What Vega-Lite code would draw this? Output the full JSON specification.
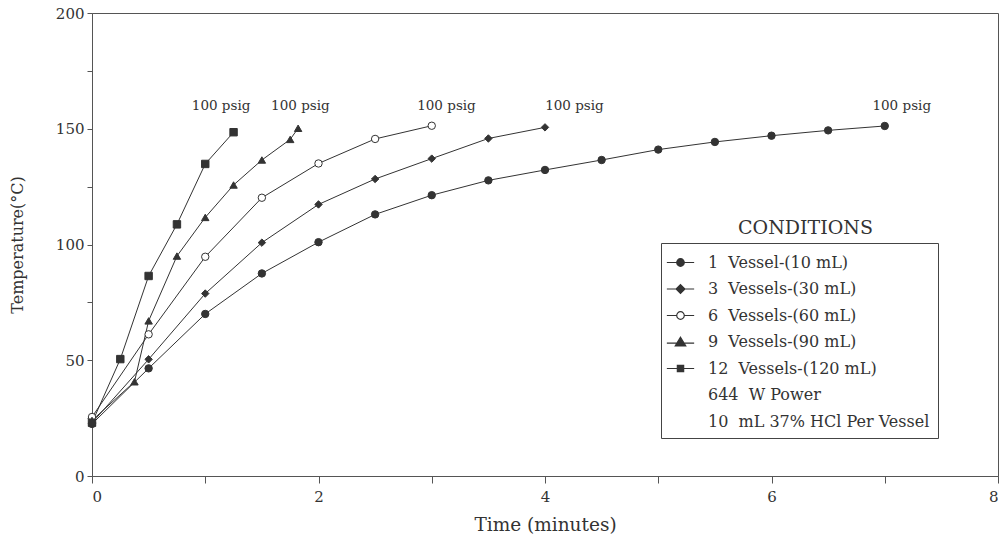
{
  "$schema": "https://vega.github.io/schema/vega-lite/v6.json",
  "autosize": {"type": "none"},
  "width": 906,
  "height": 463,
  "padding": {"left": 92, "top": 13, "right": 10, "bottom": 64},
  "background": "white",
  "config": {
    "view": {"stroke": "#555", "strokeWidth": 1},
    "axis": {"grid": false, "domainColor": "#555", "tickColor": "#555", "labelFont": "DejaVu Serif", "labelColor": "#333", "titleFont": "DejaVu Serif", "titleColor": "#333", "titleFontWeight": "normal"}
  },
  "datasets": {
    "curves": [
      {"series": "1 Vessel-(10 mL)", "time": 0, "temp": 22.5},
      {"series": "1 Vessel-(10 mL)", "time": 0.5, "temp": 46.5},
      {"series": "1 Vessel-(10 mL)", "time": 1, "temp": 70},
      {"series": "1 Vessel-(10 mL)", "time": 1.5, "temp": 87.5},
      {"series": "1 Vessel-(10 mL)", "time": 2, "temp": 101},
      {"series": "1 Vessel-(10 mL)", "time": 2.5, "temp": 113},
      {"series": "1 Vessel-(10 mL)", "time": 3, "temp": 121.3},
      {"series": "1 Vessel-(10 mL)", "time": 3.5, "temp": 127.7},
      {"series": "1 Vessel-(10 mL)", "time": 4, "temp": 132.2},
      {"series": "1 Vessel-(10 mL)", "time": 4.5, "temp": 136.5},
      {"series": "1 Vessel-(10 mL)", "time": 5, "temp": 141},
      {"series": "1 Vessel-(10 mL)", "time": 5.5, "temp": 144.3},
      {"series": "1 Vessel-(10 mL)", "time": 6, "temp": 147},
      {"series": "1 Vessel-(10 mL)", "time": 6.5, "temp": 149.3},
      {"series": "1 Vessel-(10 mL)", "time": 7, "temp": 151.2},
      {"series": "3 Vessels-(30 mL)", "time": 0, "temp": 23},
      {"series": "3 Vessels-(30 mL)", "time": 0.5, "temp": 50.4},
      {"series": "3 Vessels-(30 mL)", "time": 1, "temp": 78.8},
      {"series": "3 Vessels-(30 mL)", "time": 1.5, "temp": 100.8},
      {"series": "3 Vessels-(30 mL)", "time": 2, "temp": 117.3},
      {"series": "3 Vessels-(30 mL)", "time": 2.5, "temp": 128.3},
      {"series": "3 Vessels-(30 mL)", "time": 3, "temp": 137.1},
      {"series": "3 Vessels-(30 mL)", "time": 3.5, "temp": 145.8},
      {"series": "3 Vessels-(30 mL)", "time": 4, "temp": 150.6},
      {"series": "6 Vessels-(60 mL)", "time": 0, "temp": 25.5},
      {"series": "6 Vessels-(60 mL)", "time": 0.5, "temp": 61.2},
      {"series": "6 Vessels-(60 mL)", "time": 1, "temp": 94.7},
      {"series": "6 Vessels-(60 mL)", "time": 1.5, "temp": 120.2},
      {"series": "6 Vessels-(60 mL)", "time": 2, "temp": 135},
      {"series": "6 Vessels-(60 mL)", "time": 2.5, "temp": 145.6},
      {"series": "6 Vessels-(60 mL)", "time": 3, "temp": 151.3},
      {"series": "9 Vessels-(90 mL)", "time": 0, "temp": 24},
      {"series": "9 Vessels-(90 mL)", "time": 0.375, "temp": 40.7},
      {"series": "9 Vessels-(90 mL)", "time": 0.5, "temp": 67},
      {"series": "9 Vessels-(90 mL)", "time": 0.75, "temp": 95},
      {"series": "9 Vessels-(90 mL)", "time": 1, "temp": 111.7},
      {"series": "9 Vessels-(90 mL)", "time": 1.25, "temp": 125.7},
      {"series": "9 Vessels-(90 mL)", "time": 1.5, "temp": 136.5},
      {"series": "9 Vessels-(90 mL)", "time": 1.75, "temp": 145.4},
      {"series": "9 Vessels-(90 mL)", "time": 1.82, "temp": 150.2},
      {"series": "12 Vessels-(120 mL)", "time": 0, "temp": 23},
      {"series": "12 Vessels-(120 mL)", "time": 0.25, "temp": 50.5},
      {"series": "12 Vessels-(120 mL)", "time": 0.5, "temp": 86.4},
      {"series": "12 Vessels-(120 mL)", "time": 0.75, "temp": 108.7},
      {"series": "12 Vessels-(120 mL)", "time": 1, "temp": 134.8},
      {"series": "12 Vessels-(120 mL)", "time": 1.25, "temp": 148.5}
    ],
    "notes": [
      {"time": 1.14, "temp": 160, "label": "100 psig"},
      {"time": 1.84, "temp": 160, "label": "100 psig"},
      {"time": 3.13, "temp": 160, "label": "100 psig"},
      {"time": 4.26, "temp": 160, "label": "100 psig"},
      {"time": 7.15, "temp": 160, "label": "100 psig"}
    ]
  },
  "resolve": {"scale": {"shape": "independent", "fill": "independent", "stroke": "independent"}},
  "layer": [
    {
      "data": {"name": "curves"},
      "mark": {"type": "line", "color": "#333", "strokeWidth": 1},
      "encoding": {
        "x": {"field": "time", "type": "quantitative", "scale": {"domain": [0, 8], "nice": false},
          "axis": {"values": [0, 1, 2, 3, 4, 5, 6, 7, 8], "format": "d", "labelExpr": "datum.value % 2 === 0 ? datum.label : ''", "tickSize": 7, "labelFontSize": 15, "labelPadding": 6, "title": "Time (minutes)", "titleFontSize": 18.5, "titlePadding": 11}},
        "y": {"field": "temp", "type": "quantitative", "scale": {"domain": [0, 200], "nice": false},
          "axis": {"values": [0, 25, 50, 75, 100, 125, 150, 175, 200], "format": "d", "labelExpr": "datum.value % 50 === 0 ? datum.label : ''", "tickSize": 5, "labelFontSize": 15, "labelPadding": 3, "title": "Temperature(°C)", "titleFontSize": 16, "titlePadding": 30}},
        "detail": {"field": "series"}
      }
    },
    {
      "data": {"name": "curves"},
      "mark": {"type": "point", "stroke": "#333", "strokeWidth": 1, "opacity": 1, "size": 55},
      "encoding": {
        "x": {"field": "time", "type": "quantitative"},
        "y": {"field": "temp", "type": "quantitative"},
        "shape": {"field": "series", "type": "nominal", "legend": null,
          "scale": {"domain": ["1 Vessel-(10 mL)", "3 Vessels-(30 mL)", "6 Vessels-(60 mL)", "9 Vessels-(90 mL)", "12 Vessels-(120 mL)"],
            "range": ["circle", "diamond", "circle", "triangle-up", "square"]}},
        "fill": {"field": "series", "type": "nominal", "legend": null,
          "scale": {"domain": ["1 Vessel-(10 mL)", "3 Vessels-(30 mL)", "6 Vessels-(60 mL)", "9 Vessels-(90 mL)", "12 Vessels-(120 mL)"],
            "range": ["#333", "#333", "white", "#333", "#333"]}}
      }
    },
    {
      "data": {"name": "curves"},
      "transform": [{"filter": "false"}],
      "mark": {"type": "point", "strokeWidth": 1.2, "opacity": 1, "size": 441},
      "encoding": {
        "x": {"field": "time", "type": "quantitative"},
        "y": {"field": "temp", "type": "quantitative"},
        "shape": {"field": "series", "type": "nominal",
          "scale": {"domain": ["1 Vessel-(10 mL)", "3 Vessels-(30 mL)", "6 Vessels-(60 mL)", "9 Vessels-(90 mL)", "12 Vessels-(120 mL)", "644 W Power", "10 mL 37% HCl Per Vessel"],
            "range": [
              "M-1.3,0H-0.36M0.36,0H1.3M-0.36,0A0.36,0.36,0,1,1,0.36,0A0.36,0.36,0,1,1,-0.36,0Z",
              "M-1.3,0H-0.42M0.42,0H1.3M0,-0.42L0.42,0L0,0.42L-0.42,0Z",
              "M-1.3,0H-0.36M0.36,0H1.3M-0.36,0A0.36,0.36,0,1,1,0.36,0A0.36,0.36,0,1,1,-0.36,0Z",
              "M-1.3,0.1H1.3M0,-0.45L0.5,0.38L-0.5,0.38Z",
              "M-1.3,0H1.3M-0.3,-0.3H0.3V0.3H-0.3Z",
              "M0,0H0.01",
              "M0,0H0.01"
            ]},
          "legend": {
            "title": null, "orient": "none", "legendX": 569, "legendY": 230,
            "strokeColor": "#444", "fillColor": "white", "padding": 8,
            "symbolSize": 441, "symbolStrokeWidth": 1.2,
            "labelFont": "DejaVu Serif", "labelFontSize": 16, "labelColor": "#333", "labelOffset": 16, "labelLimit": 400, "rowPadding": 6.5,
            "labelExpr": "replace(datum.label, ' ', '\u00a0 ')"
          }},
        "fill": {"field": "series", "type": "nominal",
          "scale": {"domain": ["1 Vessel-(10 mL)", "3 Vessels-(30 mL)", "6 Vessels-(60 mL)", "9 Vessels-(90 mL)", "12 Vessels-(120 mL)", "644 W Power", "10 mL 37% HCl Per Vessel"],
            "range": ["#333", "#333", "white", "#333", "#333", "transparent", "transparent"]}},
        "stroke": {"field": "series", "type": "nominal",
          "scale": {"domain": ["1 Vessel-(10 mL)", "3 Vessels-(30 mL)", "6 Vessels-(60 mL)", "9 Vessels-(90 mL)", "12 Vessels-(120 mL)", "644 W Power", "10 mL 37% HCl Per Vessel"],
            "range": ["#333", "#333", "#333", "#333", "#333", "transparent", "transparent"]}}
      }
    },
    {
      "data": {"name": "notes"},
      "mark": {"type": "text", "font": "DejaVu Serif", "fontSize": 13.5, "color": "#333", "baseline": "middle", "align": "center"},
      "encoding": {
        "x": {"field": "time", "type": "quantitative"},
        "y": {"field": "temp", "type": "quantitative"},
        "text": {"field": "label"}
      }
    },
    {
      "data": {"values": [{"heading": "CONDITIONS"}]},
      "mark": {"type": "text", "font": "DejaVu Serif", "fontSize": 19, "color": "#333", "baseline": "middle", "align": "center"},
      "encoding": {
        "x": {"datum": 6.3},
        "y": {"datum": 107},
        "text": {"field": "heading"}
      }
    }
  ]
}
